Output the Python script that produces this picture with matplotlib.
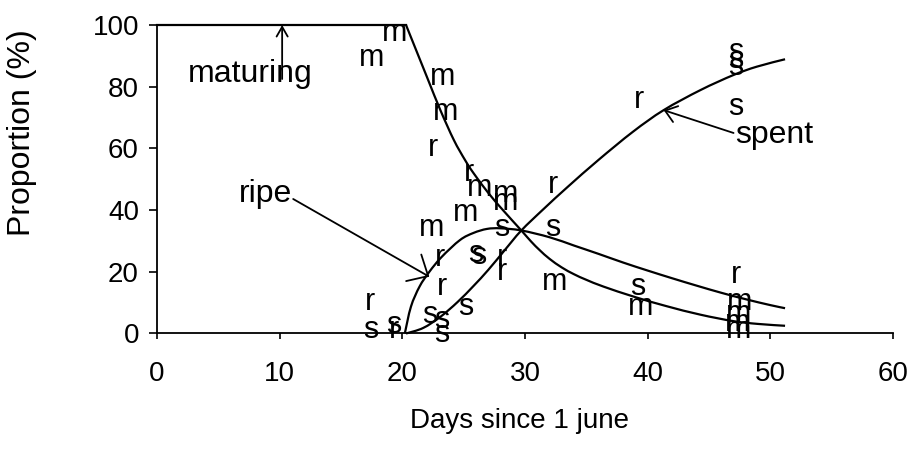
import matplotlib
matplotlib.use("Agg")
import matplotlib.pyplot as plt
from matplotlib import transforms
from matplotlib.path import Path
from matplotlib.patches import PathPatch

plt.rcParams["font.family"] = ["Liberation Sans", "DejaVu Sans"]

# Fitted stage curves (percentage of fish in each maturity stage)
mat_x = [0, 20.3, 22.0, 23.1, 24.2, 25.1, 25.8, 27.0, 28.2, 29.7, 30.5, 31.2,
         32.0, 33.0, 34.0, 35.0, 36.4, 38.9, 41.5, 44.3, 47.0, 49.0, 51.2]
mat_y = [100, 100, 83.2, 72.4, 62.7, 56.3, 52.0, 45.6, 40.0, 33.4, 29.8, 27.0,
         24.2, 21.4, 19.2, 17.4, 15.2, 11.9, 8.9, 6.1, 4.0, 3.1, 2.5]

ripe_x = [20.2, 20.7, 21.4, 22.2, 23.2, 24.7, 25.8, 26.9, 28.0, 29.7, 32.0,
          34.0, 36.0, 38.0, 40.0, 42.0, 44.0, 46.0, 48.0, 50.0, 51.2]
ripe_y = [0, 8.7, 15.2, 20.0, 24.8, 30.3, 32.6, 33.9, 34.1, 33.4, 31.2,
          28.5, 25.8, 23.0, 20.4, 17.9, 15.5, 13.2, 11.1, 9.2, 8.2]

spent_x = [20.3, 21.7, 23.1, 24.5, 25.8, 27.0, 28.3, 29.7, 31.5, 33.5, 36.0,
           38.8, 41.3, 44.3, 47.0, 48.9, 51.2]
spent_y = [0, 1.8, 5.4, 10.2, 15.4, 20.6, 26.8, 33.4, 40.3, 47.6, 56.3,
           65.4, 72.4, 78.9, 83.8, 86.5, 88.9]

# Observed proportions, plotted as stage letters
m_x = [17.5, 19.4, 23.3, 23.5, 26.3, 28.4, 28.4, 25.2, 22.4, 32.4, 39.4,
       47.5, 47.4, 47.3, 47.4]
m_y = [89.2, 97.3, 83.2, 71.9, 47.1, 45.4, 42.7, 39.0, 34.1, 16.8, 8.7,
       10.3, 6.5, 3.5, 1.0]

r_x = [17.4, 19.3, 22.5, 25.4, 23.1, 23.2, 28.1, 28.1, 32.3, 39.3, 47.2]
r_y = [10.3, 1.0, 60.0, 51.9, 24.4, 15.2, 24.5, 19.8, 48.1, 75.7, 19.0]

s_x = [17.4, 19.3, 22.2, 23.2, 23.2, 25.2, 26.0, 26.2, 28.1, 32.3, 39.2,
       47.2, 47.2, 47.2, 47.2]
s_y = [1.1, 2.8, 6.0, 4.4, 0.0, 8.7, 25.8, 25.2, 34.1, 34.1, 15.2,
       91.3, 88.6, 86.5, 73.5]

x_ticks = [0, 10, 20, 30, 40, 50, 60]
y_ticks = [0, 20, 40, 60, 80, 100]


def smooth_path(xs, ys):
    """Smoothed line through the points (Catmull-Rom as cubic Beziers)."""
    pts = list(zip(xs, ys))
    n = len(pts)
    verts = [pts[0]]
    codes = [Path.MOVETO]
    for i in range(n - 1):
        p0 = pts[max(i - 1, 0)]
        p1 = pts[i]
        p2 = pts[i + 1]
        p3 = pts[min(i + 2, n - 1)]
        c1 = (p1[0] + (p2[0] - p0[0]) / 6, p1[1] + (p2[1] - p0[1]) / 6)
        c2 = (p2[0] - (p3[0] - p1[0]) / 6, p2[1] - (p3[1] - p1[1]) / 6)
        verts += [c1, c2, p2]
        codes += [Path.CURVE4] * 3
    return Path(verts, codes)


fig = plt.figure(figsize=(9.21, 4.53), dpi=100)
ax = fig.add_axes([0.1705, 0.2638, 0.7991, 0.681])
ax.set_xlim(0, 60)
ax.set_ylim(0, 100)
for side in ("top", "right"):
    ax.spines[side].set_visible(False)
for side in ("left", "bottom"):
    ax.spines[side].set_linewidth(1.3)
ax.set_xticks(x_ticks)
ax.set_yticks(y_ticks)
ax.tick_params(axis="x", direction="out", length=4, width=1.2, pad=16,
               labelsize=20)
ax.tick_params(axis="y", direction="out", length=6, width=1.2, pad=7,
               labelsize=20)

curve_kw = dict(fill=False, edgecolor="black", lw=1.6, clip_on=False,
                transform=ax.transData)
# maturing: flat plateau, then a smooth decline from the corner
ax.plot(mat_x[:2], mat_y[:2], color="black", lw=1.6, clip_on=False)
ax.add_patch(PathPatch(smooth_path(mat_x[1:], mat_y[1:]), **curve_kw))
ax.add_patch(PathPatch(smooth_path(ripe_x, ripe_y), **curve_kw))
ax.add_patch(PathPatch(smooth_path(spent_x, spent_y), **curve_kw))

# letters centred on their x-height
fs = 22
letter_tr = transforms.offset_copy(ax.transData, fig=fig, x=0,
                                   y=-0.264 * fs, units="points")
for letter, xs, ys in (("m", m_x, m_y), ("r", r_x, r_y), ("s", s_x, s_y)):
    for x, y in zip(xs, ys):
        ax.text(x, y, letter, transform=letter_tr, ha="center",
                va="baseline", fontsize=fs, clip_on=False)

# stage names with pointers to their curves
lab_fs = 23
ax.text(7.6, 81.6, "maturing", ha="center", va="baseline", fontsize=lab_fs)
ax.annotate("", xy=(10.2, 100), xytext=(10.2, 82.5),
            arrowprops=dict(arrowstyle="->,head_length=0.35,head_width=0.2",
                            lw=1.3, color="black", shrinkA=0, shrinkB=0,
                            mutation_scale=20))

ax.text(11.0, 42.6, "ripe", ha="right", va="baseline", fontsize=lab_fs)
ax.annotate("", xy=(22.2, 18.4), xytext=(11.1, 43.6),
            arrowprops=dict(arrowstyle="->,head_length=0.6,head_width=0.55",
                            lw=1.3, color="black", shrinkA=0, shrinkB=0,
                            mutation_scale=20))

ax.text(47.1, 61.6, "spent", ha="left", va="baseline", fontsize=lab_fs)
ax.annotate("", xy=(41.3, 72.4), xytext=(47.0, 65.0),
            arrowprops=dict(arrowstyle="->,head_length=0.4,head_width=0.3",
                            lw=1.3, color="black", shrinkA=0, shrinkB=0,
                            mutation_scale=20))

fig.text(22 / 921, 1 - 132.5 / 453, "Proportion (%)", rotation=90,
         ha="center", va="center", fontsize=23)
fig.text(519 / 921, 1 - 421 / 453, "Days since 1 june", ha="center",
         va="center", fontsize=20)

fig.savefig("out.png", dpi=100, facecolor="white")
